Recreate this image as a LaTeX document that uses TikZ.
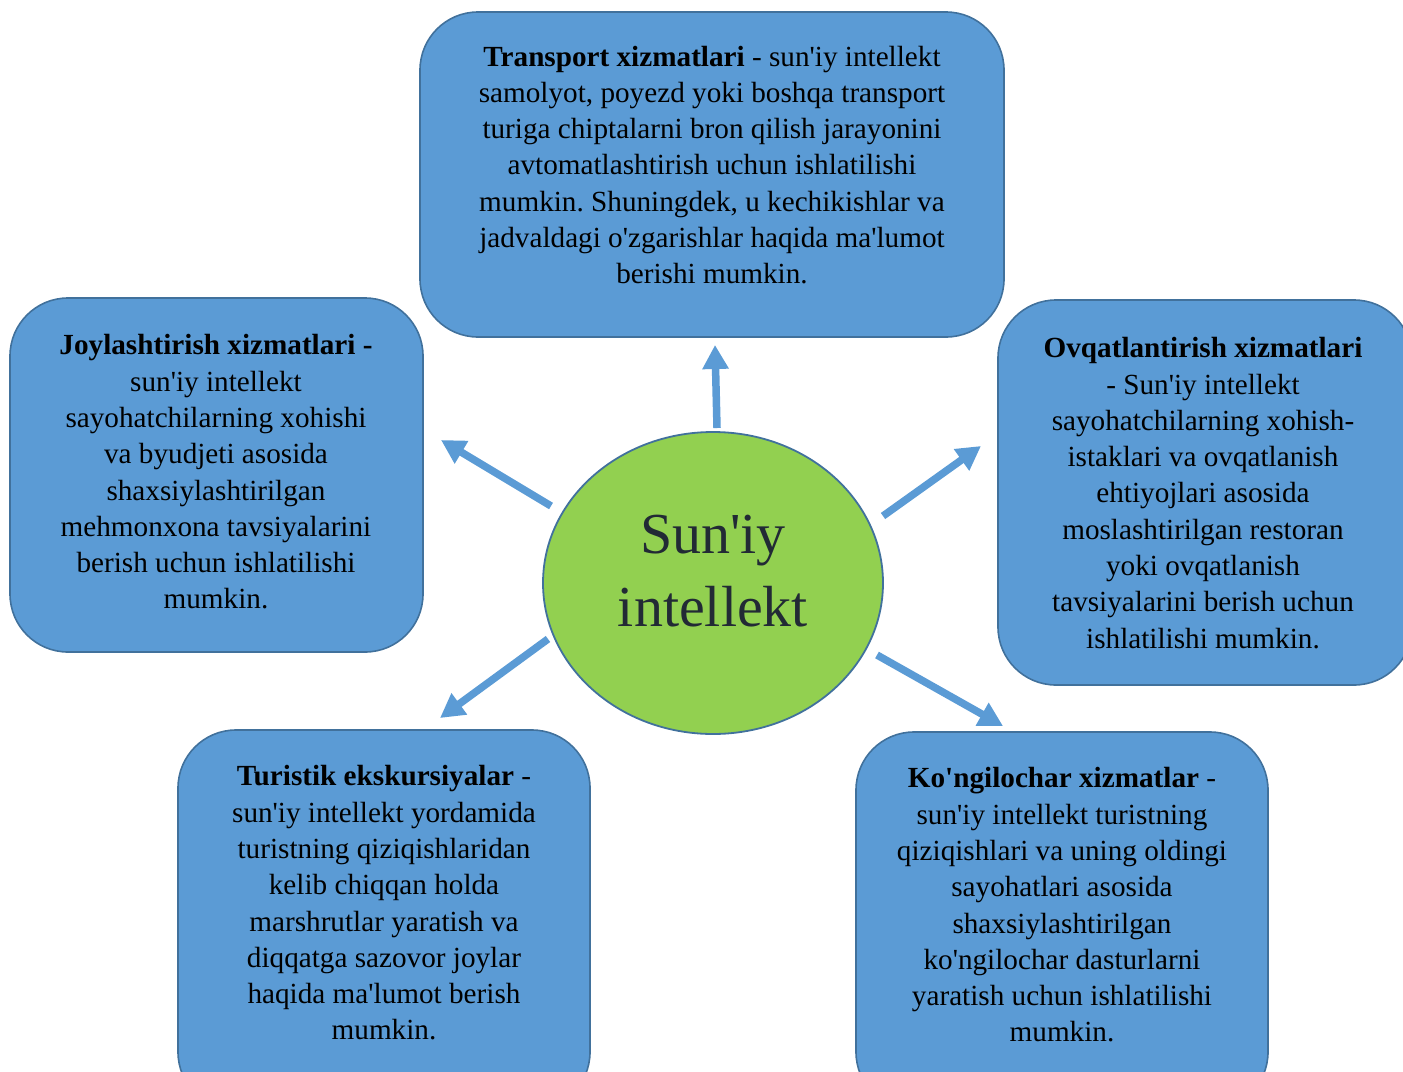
\documentclass[tikz,border=0pt]{standalone}
\usepackage{fontspec}
\setmainfont{Liberation Serif}[Ligatures=TeXOff]
\usetikzlibrary{shapes.geometric,arrows.meta}
\definecolor{boxfill}{HTML}{5B9BD5}
\definecolor{boxline}{HTML}{41719C}
\definecolor{ellfill}{HTML}{92D050}
\definecolor{arrowc}{HTML}{5B9BD5}
\definecolor{elltext}{HTML}{222A35}
\frenchspacing
\tikzset{
  card/.style={draw=boxline, line width=1.6pt, fill=boxfill, rounded corners=58pt},
  cardtext/.style={align=center, font=\fontsize{29.2}{36.3}\selectfont, text=black, inner sep=0pt},
  spoke/.style={draw=arrowc, line width=7.5pt, -{Triangle[length=24pt,width=25pt]}, shorten >=0pt}
}
\begin{document}
\begin{tikzpicture}[x=1pt,y=-1pt]
\useasboundingbox (0,0) rectangle (1403,1071);
\begin{scope}
\clip (0,0) rectangle (1403,1071);
% boxes
\draw[card] (420,12) rectangle (1004,337);
\draw[card] (10,298) rectangle (423,652);
\draw[card] (998,300) rectangle (1412,685);
\draw[card] (178,730) rectangle (590,1110);
\draw[card] (856,732) rectangle (1268,1110);
\end{scope}
% centre
\node[ellipse, draw=boxline, line width=1.8pt, fill=ellfill, minimum width=340pt, minimum height=302pt, inner sep=0pt] (ai) at (713,583) {};
\node[align=center, text=elltext, font=\fontsize{58}{73}\selectfont, inner sep=0pt] (ailabel) at (713,571) {Sun'iy\\intellekt};
% texts
\node[cardtext] (t1) at (712,165) {\textbf{Transport xizmatlari} - sun'iy intellekt\\samolyot, poyezd yoki boshqa transport\\turiga chiptalarni bron qilish jarayonini\\avtomatlashtirish uchun ishlatilishi\\mumkin. Shuningdek, u kechikishlar va\\jadvaldagi o'zgarishlar haqida ma'lumot\\berishi mumkin.};
\node[cardtext] (t2) at (216,472) {\textbf{Joylashtirish xizmatlari -}\\sun'iy intellekt\\sayohatchilarning xohishi\\va byudjeti asosida\\shaxsiylashtirilgan\\mehmonxona tavsiyalarini\\berish uchun ishlatilishi\\mumkin.};
\node[cardtext] (t3) at (1203,493) {\textbf{Ovqatlantirish xizmatlari}\\- Sun'iy intellekt\\sayohatchilarning xohish-\\istaklari va ovqatlanish\\ehtiyojlari asosida\\moslashtirilgan restoran\\yoki ovqatlanish\\tavsiyalarini berish uchun\\ishlatilishi mumkin.};
\node[cardtext] (t4) at (384,903) {\textbf{Turistik ekskursiyalar} -\\sun'iy intellekt yordamida\\turistning qiziqishlaridan\\kelib chiqqan holda\\marshrutlar yaratish va\\diqqatga sazovor joylar\\haqida ma'lumot berish\\mumkin.};
\node[cardtext] (t5) at (1062,905) {\textbf{Ko'ngilochar xizmatlar} -\\sun'iy intellekt turistning\\qiziqishlari va uning oldingi\\sayohatlari asosida\\shaxsiylashtirilgan\\ko'ngilochar dasturlarni\\yaratish uchun ishlatilishi\\mumkin.};
% arrow ends
\coordinate (aU0) at (717,428); \coordinate (aU1) at (715,345);
\coordinate (aL0) at (551,506); \coordinate (aL1) at (441,440);
\coordinate (aR0) at (883,516); \coordinate (aR1) at (981,446);
\coordinate (aBL0) at (548,639); \coordinate (aBL1) at (440,718);
\coordinate (aBR0) at (877,655); \coordinate (aBR1) at (1003,726);
\draw[spoke] (aU0) -- (aU1);
\draw[spoke] (aL0) -- (aL1);
\draw[spoke] (aR0) -- (aR1);
\draw[spoke] (aBL0) -- (aBL1);
\draw[spoke] (aBR0) -- (aBR1);
\end{tikzpicture}
\end{document}
